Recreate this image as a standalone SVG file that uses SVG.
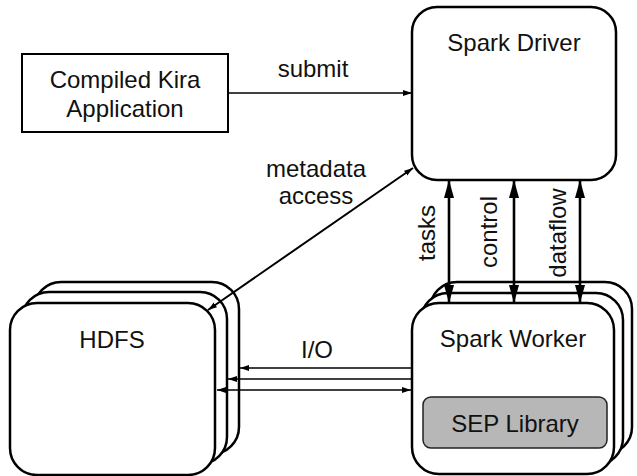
<svg xmlns="http://www.w3.org/2000/svg" width="637" height="476" viewBox="0 0 637 476">
<style>
text{font-family:"Liberation Sans",Arial,sans-serif;font-size:24px;fill:#111;text-anchor:middle}
.box{fill:#fff;stroke:#000;stroke-width:2.5}
.thin{stroke:#000;stroke-width:1.6;fill:none}
.thick{stroke:#000;stroke-width:2.6;fill:none}
</style>
<defs>
<marker id="sa" markerUnits="userSpaceOnUse" markerWidth="10" markerHeight="8" refX="9" refY="3.5" orient="auto-start-reverse" viewBox="0 0 10 8">
<path d="M0,0.5 L9,3.5 L0,6.5 z" fill="#000"/>
</marker>
<marker id="ba" markerUnits="userSpaceOnUse" markerWidth="19" markerHeight="12" refX="18" refY="5.5" orient="auto-start-reverse" viewBox="0 0 19 12">
<path d="M0,0.5 L18,5.5 L0,10.5 z" fill="#000"/>
</marker>
</defs>
<rect x="0" y="0" width="637" height="476" fill="#fff"/>

<g id="compiled-kira">
<rect x="22" y="54" width="206" height="78" fill="#fff" stroke="#000" stroke-width="2"/>
<text x="125" y="88">Compiled Kira</text>
<text x="125" y="117">Application</text>
</g>

<g id="spark-driver">
<rect class="box" x="412" y="7" width="204" height="173" rx="25"/>
<text x="514" y="51">Spark Driver</text>
</g>

<g id="hdfs">
<rect class="box" x="34" y="282" width="205" height="172" rx="27"/>
<rect class="box" x="22" y="292" width="205" height="172" rx="27"/>
<rect class="box" x="10" y="303" width="205" height="172" rx="27"/>
<text x="112" y="348">HDFS</text>
</g>

<g id="spark-worker">
<rect class="box" x="430" y="282" width="202" height="172" rx="27"/>
<rect class="box" x="421" y="293" width="202" height="172" rx="27"/>
<rect class="box" x="412" y="303" width="202" height="171" rx="27"/>
<text x="513" y="347">Spark Worker</text>
</g>

<g id="sep-library">
<rect x="423" y="397" width="184" height="51" rx="8" fill="#b7b7b7" stroke="#222" stroke-width="1.5"/>
<text x="515" y="432">SEP Library</text>
</g>

<g id="connectors">
<line class="thin" x1="228" y1="93" x2="412" y2="93" marker-end="url(#sa)"/>
<text x="313" y="77">submit</text>
<line class="thin" style="stroke-width:2" x1="208" y1="310" x2="413" y2="168" marker-start="url(#sa)" marker-end="url(#sa)"/>
<text x="316" y="177">metadata</text>
<text x="316" y="204">access</text>
<line class="thick" x1="449" y1="180" x2="449" y2="303" marker-start="url(#ba)" marker-end="url(#ba)"/>
<line class="thick" x1="514" y1="180" x2="514" y2="303" marker-start="url(#ba)" marker-end="url(#ba)"/>
<line class="thick" x1="580" y1="180" x2="580" y2="303" marker-start="url(#ba)" marker-end="url(#ba)"/>
<text transform="translate(435,233) rotate(-90)">tasks</text>
<text transform="translate(497,232) rotate(-90)">control</text>
<text transform="translate(566,233) rotate(-90)">dataflow</text>
<line class="thin" x1="412" y1="368" x2="240" y2="368" marker-end="url(#sa)"/>
<line class="thin" x1="412" y1="379" x2="228" y2="379" marker-end="url(#sa)"/>
<line class="thin" x1="217" y1="390" x2="411" y2="390" marker-start="url(#sa)" marker-end="url(#sa)"/>
<text x="317" y="358">I/O</text>
</g>
</svg>
